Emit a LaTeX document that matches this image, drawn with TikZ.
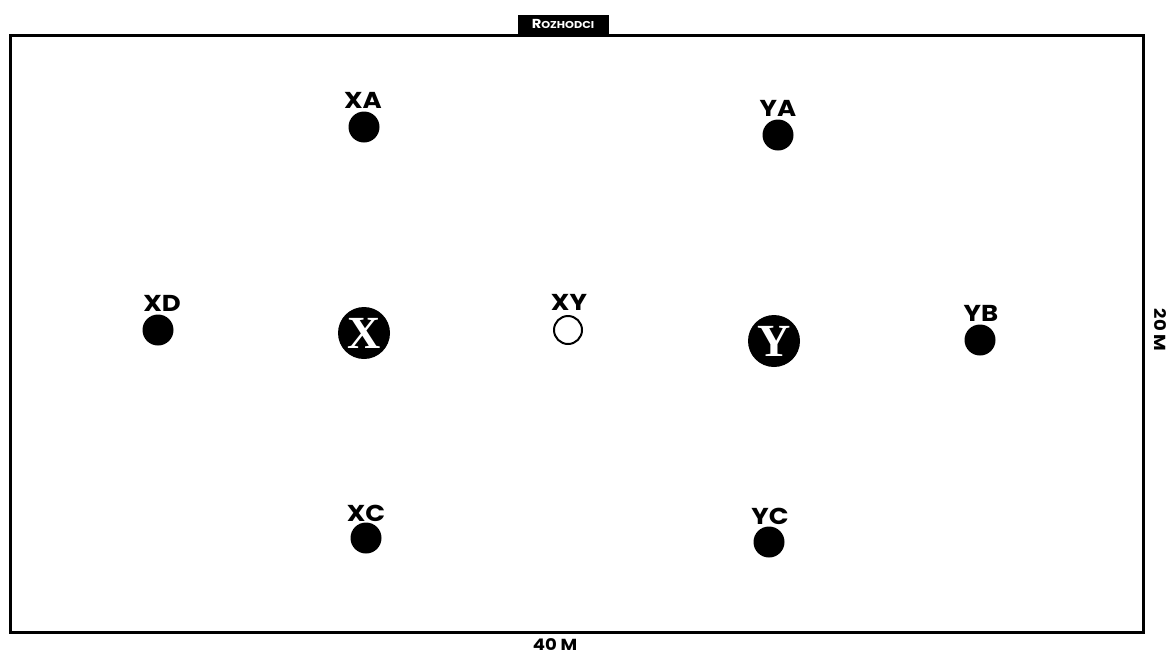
\documentclass[tikz,border=0pt]{standalone}
\usepackage{fontspec}
\newfontfamily\labfont[FakeStretch=1.13]{Poppins}
\newfontfamily\bigfont{Liberation Serif}
\begin{document}
\begin{tikzpicture}[x=1pt,y=-1pt,
  dot/.style={circle,fill=black,minimum size=31pt,inner sep=0pt},
  bigdot/.style={circle,fill=black,minimum size=52pt,inner sep=0pt,text=white,
    font=\bigfont\bfseries\fontsize{46}{46}\selectfont},
  hollow/.style={circle,draw=black,line width=2pt,minimum size=28pt,inner sep=0pt},
  lab/.style={font=\labfont\bfseries\fontsize{23}{23}\selectfont,inner sep=0pt},
  dim/.style={font=\labfont\bfseries\fontsize{16}{16}\selectfont,inner sep=0pt},
]
\useasboundingbox[fill=white] (0,0) rectangle (1175,657);
\node[draw,line width=3pt,minimum width=1133.5pt,minimum height=596.5pt,inner sep=0pt] (field) at (576.75,333.75) {};
\node[fill=black,text=white,minimum width=91pt,minimum height=19pt,inner sep=0pt,
  font=\labfont\bfseries] (ref) at (563,24) {{\fontsize{13}{13}\selectfont R}{\fontsize{10}{10}\selectfont OZHODCI}};

\node[dot] (xa) at (364,127) {};
\node[lab] (xal) at (363,100) {XA};
\node[dot] (ya) at (778,135) {};
\node[lab] (yal) at (778,108) {YA};
\node[dot] (xd) at (158,330) {};
\node[lab] (xdl) at (162,303) {XD};
\node[bigdot] (x) at (364,333) {X};
\node[hollow] (xy) at (568,330) {};
\node[lab] (xyl) at (569,302) {XY};
\node[bigdot] (y) at (774,341) {Y};
\node[dot] (yb) at (980,340) {};
\node[lab] (ybl) at (981,313) {YB};
\node[dot] (xc) at (366,538) {};
\node[lab] (xcl) at (366,513) {XC};
\node[dot] (yc) at (769,542) {};
\node[lab] (ycl) at (770,516) {YC};

\node[dim] (w) at (555,645) {40 M};
\node[dim,rotate=-90] (h) at (1160,330) {20 M};
\end{tikzpicture}
\end{document}
